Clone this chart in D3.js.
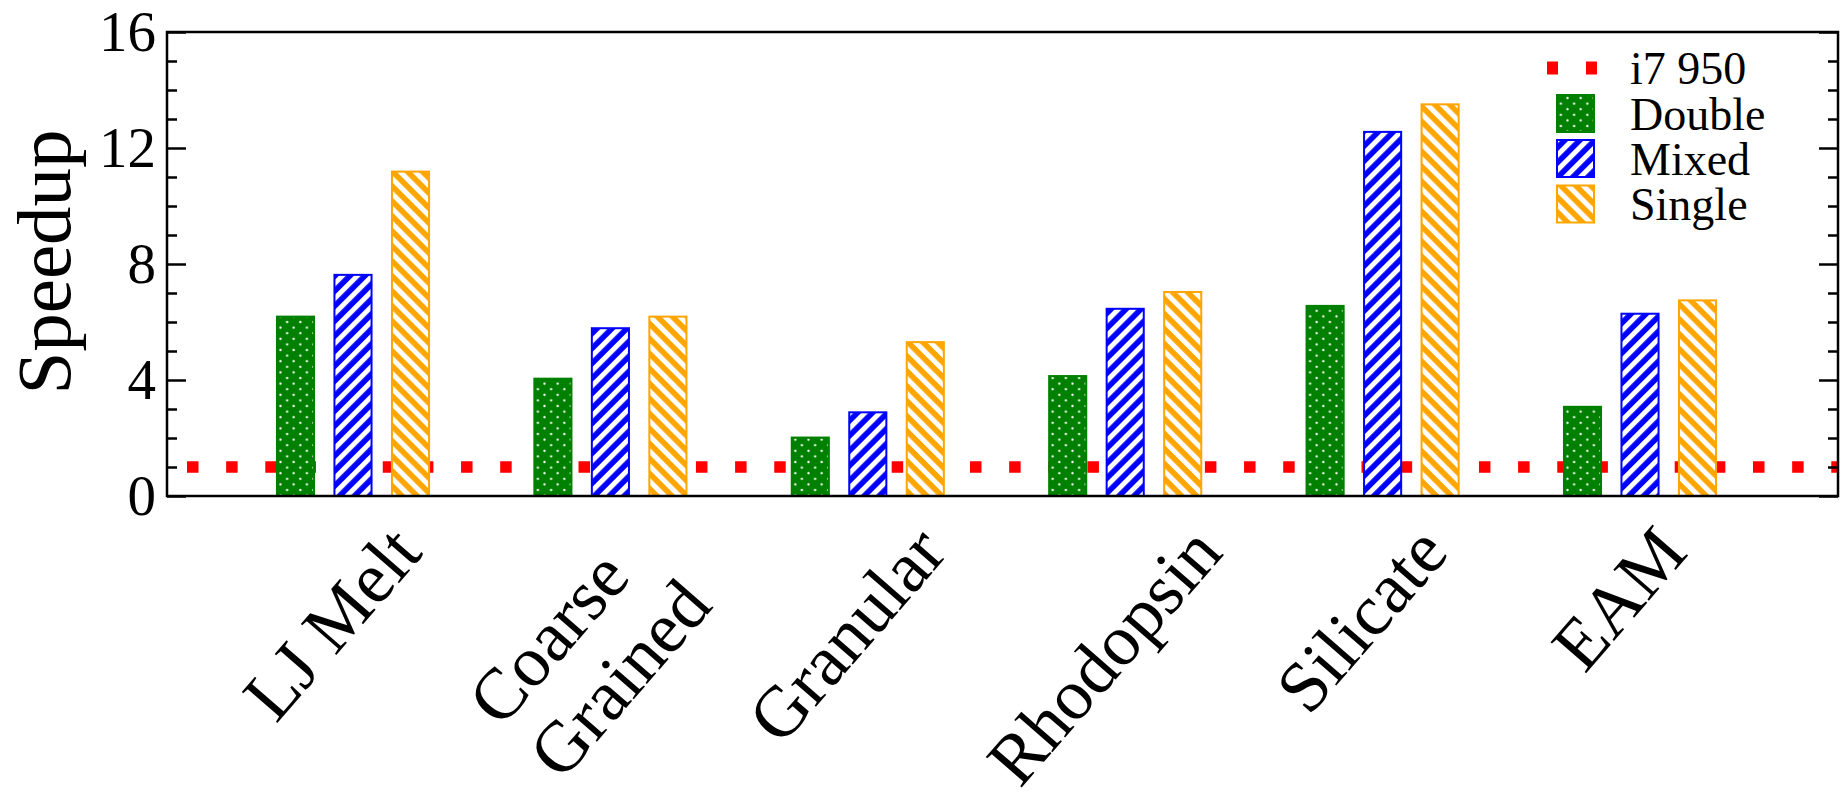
<!DOCTYPE html>
<html>
<head>
<meta charset="utf-8">
<script src="https://cdn.jsdelivr.net/npm/d3@7/dist/d3.min.js"></script>
<style>
  html, body { margin: 0; padding: 0; background: #fff; }
  svg { display: block; }
  text { font-family: "Liberation Serif", "Times New Roman", serif; fill: #000; }
</style>
</head>
<body>
<svg id="chart" width="1847" height="794"></svg>
<script>
// ---- data ----
const categories = [["LJ Melt"], ["Coarse", "Grained"], ["Granular"], ["Rhodopsin"], ["Silicate"], ["EAM"]];
const seriesNames = ["Double", "Mixed", "Single"];
const doubleValues = [6.22, 4.08, 2.05, 4.17, 6.59, 3.11];
const mixedValues  = [7.66, 5.82, 2.92, 6.49, 12.59, 6.32];
const singleValues = [11.22, 6.22, 5.34, 7.07, 13.54, 6.78];
const baselineName = "i7 950";
const baselineValue = 1;
const yTicks = [0, 4, 8, 12, 16];
const yMinorTicks = d3.range(0, 17, 1);
const yTitle = "Speedup";

const seriesValues = [doubleValues, mixedValues, singleValues];

// ---- layout ----
const plot = { left: 167, right: 1838, top: 32, bottom: 496 };
const colors = { Double: "#008000", Mixed: "#0000ff", Single: "#ffa500" };

const svg = d3.select("#chart");

const x = d3.scaleLinear()
  .domain([-0.7226, 5.7692])
  .range([plot.left, plot.right]);

const xInner = d3.scaleBand()
  .domain(seriesNames)
  .range([-86.25, 86.25])
  .paddingInner(0.32)
  .paddingOuter(0.16);

const y = d3.scaleLinear()
  .domain([0, 16])
  .range([plot.bottom, plot.top]);

// ---- fill patterns ----
const defs = svg.append("defs");

const dots = defs.append("pattern")
  .attr("id", "pat-Double")
  .attr("patternUnits", "userSpaceOnUse")
  .attr("width", 13.2).attr("height", 11.2);
dots.append("rect").attr("width", 13.2).attr("height", 11.2).attr("fill", colors.Double);
dots.append("circle").attr("cx", 3.3).attr("cy", 2.8).attr("r", 1.15).attr("fill", "#fff");
dots.append("circle").attr("cx", 9.9).attr("cy", 8.4).attr("r", 1.15).attr("fill", "#fff");

function stripes(id, color, angle) {
  const p = defs.append("pattern")
    .attr("id", id)
    .attr("patternUnits", "userSpaceOnUse")
    .attr("width", 10.6).attr("height", 10.6)
    .attr("patternTransform", `rotate(${angle})`);
  p.append("rect").attr("width", 10.6).attr("height", 10.6).attr("fill", color);
  p.append("rect").attr("x", 0).attr("width", 5).attr("height", 10.6).attr("fill", "#fff");
}
stripes("pat-Mixed", colors.Mixed, 45);
stripes("pat-Single", colors.Single, -45);

// ---- reference line (i7 950) ----
const dashLen = 11.5, period = 39.15, firstDash = 187;
svg.append("line")
  .attr("x1", plot.left).attr("x2", plot.right)
  .attr("y1", y(baselineValue)).attr("y2", y(baselineValue))
  .attr("stroke", "#ff0000")
  .attr("stroke-width", 11.5)
  .attr("stroke-dasharray", `${dashLen},${period - dashLen}`)
  .attr("stroke-dashoffset", period - (firstDash - plot.left));

// ---- bars ----
const barData = [];
categories.forEach((c, i) => {
  seriesNames.forEach((s, k) => {
    barData.push({ i, series: s, value: seriesValues[k][i] });
  });
});

svg.append("g").selectAll("rect")
  .data(barData)
  .join("rect")
  .attr("x", d => x(d.i) + xInner(d.series) + 1)
  .attr("y", d => y(d.value) + 1)
  .attr("width", xInner.bandwidth() - 2)
  .attr("height", d => y(0) - y(d.value) - 1)
  .attr("fill", d => `url(#pat-${d.series})`)
  .attr("stroke", d => colors[d.series])
  .attr("stroke-width", 2);

// ---- axes ----
const fontTick = 57;

const yAxis = svg.append("g")
  .attr("transform", `translate(${plot.left},0)`)
  .call(d3.axisLeft(y).tickValues(yTicks).tickSize(-19).tickPadding(11).tickFormat(d3.format("d")));
yAxis.select(".domain").remove();
yAxis.selectAll("line").attr("stroke", "#000").attr("stroke-width", 2.5);
yAxis.selectAll("text").style("font-size", fontTick + "px").attr("fill", "#000")
  .style("font-family", '"Liberation Serif", "Times New Roman", serif');

const yMinor = svg.append("g")
  .attr("transform", `translate(${plot.left},0)`)
  .call(d3.axisLeft(y).tickValues(yMinorTicks.filter(v => !yTicks.includes(v))).tickSize(-10).tickFormat(""));
yMinor.select(".domain").remove();
yMinor.selectAll("line").attr("stroke", "#000").attr("stroke-width", 2.5);

const yRight = svg.append("g")
  .attr("transform", `translate(${plot.right},0)`)
  .call(d3.axisRight(y).tickValues(yTicks).tickSize(-19).tickFormat(""));
yRight.select(".domain").remove();
yRight.selectAll("line").attr("stroke", "#000").attr("stroke-width", 2.5);

const yRightMinor = svg.append("g")
  .attr("transform", `translate(${plot.right},0)`)
  .call(d3.axisRight(y).tickValues(yMinorTicks.filter(v => !yTicks.includes(v))).tickSize(-10).tickFormat(""));
yRightMinor.select(".domain").remove();
yRightMinor.selectAll("line").attr("stroke", "#000").attr("stroke-width", 2.5);

// frame
svg.append("rect")
  .attr("x", plot.left).attr("y", plot.top)
  .attr("width", plot.right - plot.left)
  .attr("height", plot.bottom - plot.top)
  .attr("fill", "none")
  .attr("stroke", "#000")
  .attr("stroke-width", 2.5);

// y title
svg.append("text")
  .attr("transform", `translate(70,${(plot.top + plot.bottom) / 2 - 2}) rotate(-90)`)
  .attr("text-anchor", "middle")
  .style("font-size", "77px")
  .text(yTitle);

// ---- category labels (rotated) ----
const labelAngle = -49;
const labelTop = 512;
const labelLayer = svg.append("g");
categories.forEach((lines, i) => {
  const g = labelLayer.append("g");
  const t = g.append("text")
    .attr("transform", `rotate(${labelAngle})`)
    .attr("text-anchor", "start")
    .style("font-size", "72px");
  lines.forEach((ln, k) => {
    t.append("tspan").attr("x", 0).attr("dy", k === 0 ? 0 : "1.12em").text(ln);
  });
  const r = t.node().getBoundingClientRect();
  const cx = (r.left + r.right) / 2;
  g.attr("transform", `translate(${x(i) - 21 - cx},${labelTop - r.top})`);
});

// ---- legend ----
const legend = svg.append("g");
const legX = 1556, legText = 1630, sw = 39;
const rows = [68, 113.5, 158.5, 204];

legend.append("line")
  .attr("x1", 1547).attr("x2", 1597.5)
  .attr("y1", rows[0]).attr("y2", rows[0])
  .attr("stroke", "#ff0000")
  .attr("stroke-width", 13)
  .attr("stroke-dasharray", `11,28`);
legend.append("text")
  .attr("x", legText).attr("y", rows[0] + 16)
  .style("font-size", "46px")
  .text(baselineName);

seriesNames.forEach((s, k) => {
  const cy = rows[k + 1];
  legend.append("rect")
    .attr("x", legX + 1).attr("y", cy - sw / 2 + 1)
    .attr("width", sw - 2).attr("height", sw - 2)
    .attr("fill", `url(#pat-${s})`)
    .attr("stroke", colors[s])
    .attr("stroke-width", 2);
  legend.append("text")
    .attr("x", legText).attr("y", cy + 16)
    .style("font-size", "46px")
    .text(s);
});
</script>
</body>
</html>
